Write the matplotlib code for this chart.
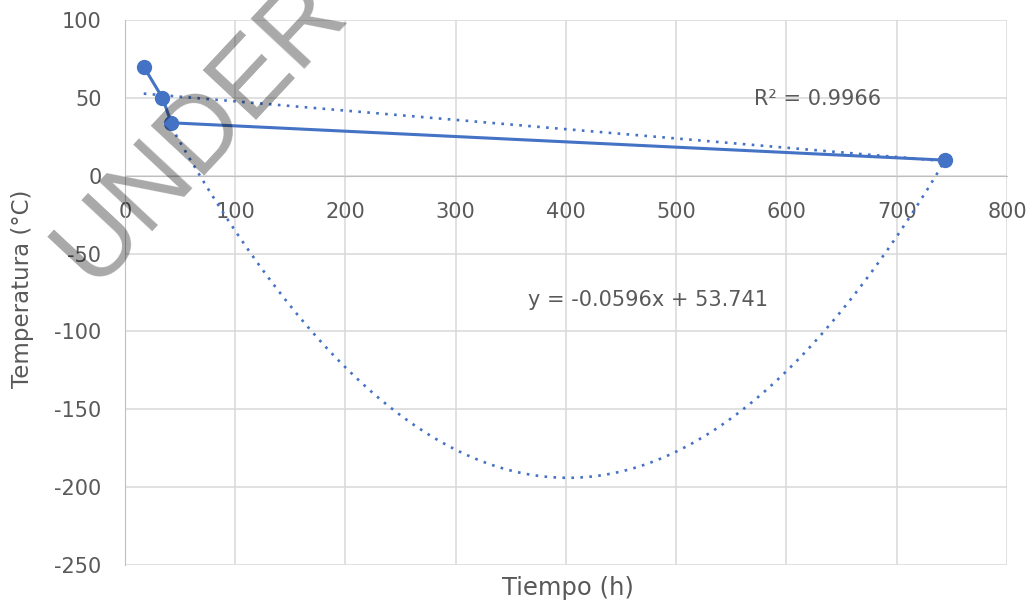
import numpy as np
import matplotlib
matplotlib.use("Agg")
import matplotlib.pyplot as plt

#########################################
# Data
#########################################

tiempo = [17, 34, 42, 744]
temperatura = [70, 50, 34, 10]

# trendline coefficients (highest power first)
lineal_coef = [-0.0596, 53.741]
poli_coef = [0.001742, -1.3996, 87.12]

x_ticks = [0, 100, 200, 300, 400, 500, 600, 700, 800]
y_ticks = [-250, -200, -150, -100, -50, 0, 50, 100]

azul = "#4472C4"
gris_texto = "#595959"
gris_grid = "#d9d9d9"

plt.rcParams["font.family"] = ["DejaVu Sans"]
plt.rcParams["axes.unicode_minus"] = False

#########################################
# Figure
#########################################

fig = plt.figure(figsize=(10.33, 6.05), dpi=100)
ax = fig.add_axes([0.121, 0.0661, 0.8538, 0.9008])

ax.set_xlim(0, 800)
ax.set_ylim(-250, 100)
ax.set_xticks(x_ticks)
ax.set_yticks(y_ticks)
ax.grid(True, color=gris_grid, linewidth=1.1, zorder=0)
ax.set_axisbelow(True)

for side in ["top", "right"]:
    ax.spines[side].set_visible(False)
ax.spines["bottom"].set_position(("data", 0))
ax.spines["bottom"].set_color("#bfbfbf")
ax.spines["left"].set_color("#bfbfbf")

ax.tick_params(axis="both", length=0, labelsize=15, labelcolor=gris_texto)
ax.tick_params(axis="x", pad=19)
ax.tick_params(axis="y", pad=17)

# trendlines
xl = np.linspace(tiempo[0], tiempo[-1], 200)
ax.plot(xl, np.polyval(lineal_coef, xl), color=azul, lw=1.9,
        linestyle=(0, (1, 2.4)), zorder=2)
xp = np.linspace(tiempo[2], tiempo[-1], 400)
ax.plot(xp, np.polyval(poli_coef, xp), color=azul, lw=1.9,
        linestyle=(0, (1, 2.4)), zorder=2)

# series
ax.plot(tiempo, temperatura, color=azul, lw=2.2, marker="o",
        markersize=10, zorder=3)

ax.text(628, 49.5, "R² = 0.9966", fontsize=15, color=gris_texto,
        ha="center", va="center")
ax.text(474, -80, "y = -0.0596x + 53.741", fontsize=15, color=gris_texto,
        ha="center", va="center")

fig.text(0.55, 0.028, "Tiempo (h)", fontsize=17.5, color=gris_texto,
         ha="center", va="center")
fig.text(0.022, 0.522, "Temperatura (°C)", fontsize=16.5, color=gris_texto,
         rotation=90, ha="center", va="center")

# watermark
fig.text(0.194, 0.785, "UNDER", fontsize=76, family="Liberation Sans",
         color="black", alpha=0.34, rotation=47, rotation_mode="anchor",
         ha="center", va="center", zorder=10)

fig.savefig("out.png", dpi=100)
